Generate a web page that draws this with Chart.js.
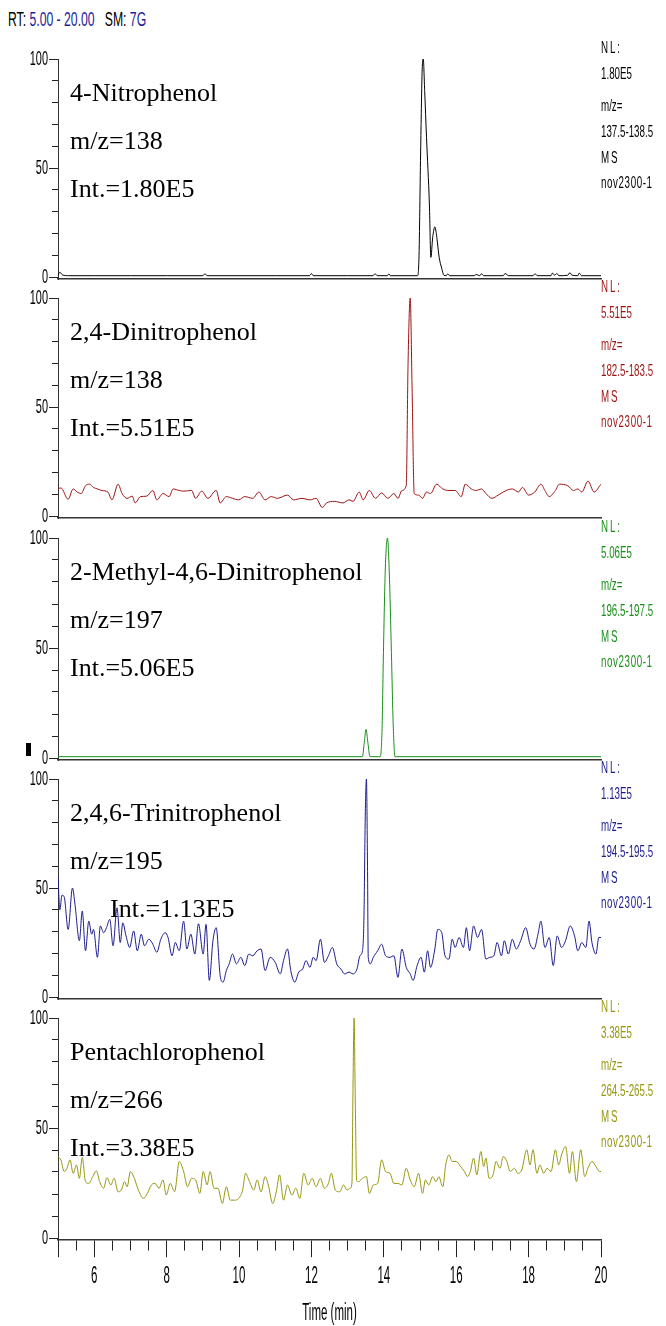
<!DOCTYPE html>
<html><head><meta charset="utf-8">
<script src="https://cdn.jsdelivr.net/npm/chart.js@4.4.1/dist/chart.umd.min.js"></script>
<style>
body{margin:0;width:666px;height:1326px;position:relative;background:#fff;overflow:hidden}
canvas{position:absolute;left:0}
.t{position:absolute;white-space:nowrap;line-height:1}
.cmp{font-family:'Liberation Serif','Times New Roman',serif;font-size:26px;color:#000}
.nl{font-family:'Liberation Sans',Arial,sans-serif;font-size:16px;transform:scaleX(0.61);transform-origin:0 0}
.hd{font-family:'Liberation Sans',Arial,sans-serif;font-size:20px;left:8px;top:9px;transform:scaleX(0.61);transform-origin:0 0}
</style></head><body>
<div class="t hd">RT: <span style="color:#1f1f9c">5.00 - 20.00</span>&nbsp;&nbsp; SM: <span style="color:#1f1f9c">7G</span></div>
<div style="position:absolute;left:26px;top:743px;width:5px;height:13px;background:#000"></div>
<canvas id="c1"></canvas><canvas id="c2"></canvas><canvas id="c3"></canvas><canvas id="c4"></canvas><canvas id="c5"></canvas>
<div id="labels"></div>
<script>
// ---------------- data ----------------
const xTickValues = [5,5.5,6,6.5,7,7.5,8,8.5,9,9.5,10,10.5,11,11.5,12,12.5,13,13.5,14,14.5,15,15.5,16,16.5,17,17.5,18,18.5,19,19.5,20];
const xTickLabels = [6,8,10,12,14,16,18,20];
const xLongTicks = [5,6,8,10,12,14,16,18,20];
const yTickValues = [0,10,20,30,40,50,60,70,80,90,100];
const yTickLabels = [0,50,100];
const xTitle = 'Time (min)';

const compounds = ['4-Nitrophenol','2,4-Dinitrophenol','2-Methyl-4,6-Dinitrophenol','2,4,6-Trinitrophenol','Pentachlorophenol'];
const mzLabels = ['m/z=138','m/z=138','m/z=197','m/z=195','m/z=266'];
const intLabels = ['Int.=1.80E5','Int.=5.51E5','Int.=5.06E5','Int.=1.13E5','Int.=3.38E5'];
const nlValues = ['1.80E5','5.51E5','5.06E5','1.13E5','3.38E5'];
const mzRanges = ['137.5-138.5','182.5-183.5','196.5-197.5','194.5-195.5','264.5-265.5'];
const colors = ['#000000','#9e1414','#1a8f1a','#1c1c8e','#979712'];

const p1T = [5.00,5.05,5.12,5.30,6.00,7.00,8.00,9.00,9.06,9.12,10.00,11.00,11.95,12.00,12.05,13.00,13.70,13.76,13.82,14.10,14.14,14.18,14.93,14.97,15.02,15.06,15.09,15.13,15.18,15.26,15.30,15.35,15.41,15.45,15.48,15.53,15.60,15.66,15.72,15.77,15.82,16.50,16.55,16.65,16.70,16.76,17.30,17.35,17.45,18.12,18.18,18.24,18.62,18.66,18.72,18.78,18.84,19.08,19.14,19.20,19.36,19.40,19.46,20.00];
const p1Y = [0.8,2.2,1.0,0.6,0.6,0.6,0.6,0.6,1.5,0.6,0.6,0.6,0.6,1.6,0.6,0.6,0.6,1.5,0.6,0.6,1.5,0.6,0.6,8,60,95,100,85,64,33,9,18,23,20,16,9,4,0.8,0.6,1.5,0.6,0.6,1.2,0.6,1.5,0.6,0.6,1.6,0.6,0.6,1.5,0.6,0.6,1.8,0.8,1.6,0.6,0.8,2.0,0.8,0.6,1.8,0.6,0.6];

const p2T = [5.00,5.08,5.28,5.42,5.53,5.64,5.76,5.87,5.98,6.09,6.21,6.38,6.49,6.66,6.77,6.91,7.05,7.13,7.28,7.45,7.62,7.73,7.90,8.07,8.18,8.35,8.47,8.69,8.80,8.97,9.14,9.37,9.48,9.65,9.82,9.99,10.16,10.38,10.55,10.72,10.89,11.06,11.34,11.51,11.74,11.96,12.13,12.30,12.42,12.64,12.87,13.04,13.15,13.32,13.43,13.60,13.77,13.94,14.11,14.28,14.39,14.50,14.62,14.67,14.73,14.78,14.84,14.96,15.07,15.18,15.29,15.46,15.63,15.80,15.97,16.14,16.25,16.42,16.54,16.70,16.82,16.99,17.16,17.38,17.55,17.72,17.83,18.00,18.17,18.34,18.45,18.57,18.74,18.85,19.08,19.24,19.36,19.47,19.64,19.81,20.00];
const p2Y = [12.4,12.9,7.7,12.4,11.0,10.3,13.9,14.6,13.1,12.4,11.7,11.0,7.4,14.6,10.3,8.1,9.1,6.0,8.9,9.1,11.7,7.4,10.3,8.9,12.4,11.7,11.4,11.7,8.1,11.4,8.1,11.7,6.0,8.9,8.1,7.4,8.9,8.1,11.0,7.4,8.9,8.1,9.6,7.4,8.1,7.4,8.1,3.9,6.0,6.7,6.0,7.4,6.7,11.0,7.4,11.7,8.1,10.6,8.1,10.3,8.1,11.7,14.0,70,100,60,10.3,9.6,8.1,11.0,10.3,14.6,12.4,11.7,11.7,8.9,14.6,12.4,11.7,12.4,10.3,8.1,9.6,11.7,12.4,11.0,13.1,9.6,11.0,14.6,11.7,8.9,11.7,14.6,13.9,11.7,12.4,11.0,16.0,11.0,14.6];

const p3T = [5.00,13.41,13.46,13.51,13.56,13.62,13.90,13.95,13.99,14.04,14.10,14.15,14.21,14.26,14.31,20.00];
const p3Y = [0.6,0.6,7,13,7,0.6,0.6,12,48,85,100,85,48,15,0.6,0.6];

const p4T = [5.00,5.05,5.11,5.17,5.28,5.40,5.47,5.59,5.67,5.76,5.85,5.93,5.98,6.09,6.17,6.26,6.34,6.43,6.52,6.63,6.72,6.79,6.88,6.98,7.09,7.19,7.30,7.39,7.51,7.62,7.73,7.84,7.96,8.04,8.15,8.24,8.35,8.47,8.56,8.67,8.78,8.88,9.01,9.09,9.18,9.28,9.37,9.48,9.56,9.65,9.73,9.82,9.93,10.05,10.16,10.27,10.38,10.50,10.61,10.72,10.86,11.00,11.14,11.23,11.34,11.43,11.54,11.65,11.76,11.85,11.96,12.05,12.13,12.25,12.36,12.47,12.58,12.70,12.81,12.92,13.04,13.15,13.26,13.34,13.41,13.45,13.49,13.52,13.55,13.57,13.63,13.71,13.83,13.94,14.05,14.17,14.28,14.39,14.50,14.62,14.73,14.81,14.92,15.03,15.12,15.21,15.29,15.41,15.49,15.60,15.69,15.80,15.89,15.97,16.08,16.20,16.28,16.37,16.48,16.59,16.70,16.82,16.93,17.04,17.13,17.25,17.33,17.44,17.55,17.66,17.78,17.92,18.04,18.15,18.26,18.34,18.45,18.57,18.68,18.79,18.91,19.02,19.15,19.27,19.36,19.47,19.58,19.67,19.75,19.86,19.94,20.00];
const p4Y = [55.3,40,46.7,46,31,50,42.4,25.8,39.4,21.2,34.8,28.8,31,18.2,32.6,29.5,31.8,35.6,23.5,40.9,25,34,28,22.7,30.3,21.2,28.8,23.5,26.5,24.2,20.5,26.5,29.5,27.3,18.9,25,21.2,34.8,22,28.8,19.7,33.6,19.7,33.3,7.6,25.8,31.8,9.8,6.8,12.1,15.2,19.7,15.2,18.2,14.4,19.7,18.9,21.2,22,12.1,18.2,15.9,10.6,16.7,22,12.1,6.8,11.4,12.9,16.7,13.6,18.2,16.7,26.5,15.9,18.9,22.7,15.2,12.9,10.6,11.4,10.6,12.9,18.9,21.2,35,85,100,60,18.2,15.2,18.2,21.2,24.2,18.9,18.2,18.9,9,22,13.6,10.6,7.6,14.4,18.2,11.4,21.2,13.6,22,31,29.5,18.9,17.4,26.5,22.7,27.3,22.7,31.8,21.2,32.6,27.3,31,17.4,18.2,18.9,25,18.9,25.8,19.7,26.5,22,25.8,31.8,24.2,22,28.8,34.8,22.7,27.3,14.4,28,22.7,25.8,32.6,28,21.2,25,22.7,34.8,25,19.7,27.3,27.3];

const p5T = [5.00,5.08,5.17,5.25,5.33,5.42,5.51,5.59,5.67,5.76,5.85,5.96,6.06,6.15,6.26,6.35,6.46,6.55,6.66,6.75,6.84,6.91,7.00,7.11,7.22,7.36,7.47,7.58,7.68,7.79,7.90,7.99,8.10,8.22,8.35,8.47,8.58,8.69,8.80,8.92,9.01,9.12,9.20,9.31,9.42,9.54,9.65,9.76,9.88,9.99,10.10,10.18,10.29,10.41,10.50,10.61,10.72,10.81,10.93,11.03,11.12,11.23,11.34,11.46,11.57,11.68,11.79,11.91,12.02,12.13,12.25,12.36,12.47,12.55,12.66,12.78,12.89,12.98,13.07,13.12,13.15,13.18,13.21,13.25,13.30,13.41,13.52,13.60,13.71,13.83,13.94,14.05,14.17,14.28,14.39,14.50,14.62,14.73,14.84,14.96,15.07,15.15,15.24,15.35,15.44,15.52,15.63,15.71,15.80,15.89,16.00,16.12,16.23,16.31,16.39,16.48,16.57,16.68,16.76,16.82,16.91,17.02,17.10,17.21,17.30,17.40,17.49,17.61,17.70,17.81,17.95,18.04,18.12,18.23,18.31,18.42,18.51,18.62,18.74,18.83,18.91,19.02,19.13,19.21,19.32,19.44,19.55,19.64,19.75,19.86,19.96,20.00];
const p5Y = [37,35.5,30.2,31.7,35.5,29.4,33.2,27.1,36.6,25.6,24.8,27.9,30.5,25.6,22.6,27.4,24.1,27.1,21,21.8,25.6,23.3,30.2,27.1,21.8,18,20.3,24.1,24.8,22.6,26.4,19.5,24.8,21,34.8,30.2,23.3,27.1,26.4,20.3,30.2,24.1,30.2,22.6,22.6,15.7,23.3,17.2,17.2,18,21.8,29.4,25.6,21.8,26.4,21,27.9,24.1,15.7,21,28.7,17.2,24.1,19.5,22.6,18,29.4,24.1,27.1,23.3,27.1,22.6,24.8,29.4,21.8,21,24.1,21.8,22.6,25,70,100,65,26,25.6,27.1,27.9,20.3,24.1,24.8,35.5,30.2,29.4,24.8,24.8,24.1,31.7,26.4,23.3,29.4,20.3,26.4,24.1,27.9,25.6,27.9,23.3,33.2,37.8,34.8,34.8,32.5,30.2,27.9,30.2,36.3,28.7,39.3,32.5,36.3,27.1,28.7,34.8,31.7,37,34.8,30.2,31.7,29.4,30.9,40.1,33.2,40.1,29.4,33.2,29.4,31.7,30.2,40.1,33.2,37.8,41.6,29.4,39.3,25.6,40.1,27.9,31.7,34.8,32.5,30.2,30.2];

const seriesT = [p1T,p2T,p3T,p4T,p5T];
const seriesY = [p1Y,p2Y,p3Y,p4Y,p5Y];

// ---------------- layout ----------------
const panelTop = [59,298,538,779,1018];     // pixel of 100 %
const panelZero = [277,516,758,997,1238];   // pixel of 0 %
const YMIN = -1, YMAX = 100;
const PAD_TOP = 14;
const SANS = "'Liberation Sans', Arial, sans-serif";

// draws tick labels condensed (narrow font look), positioned by the chart's own scales
const narrowLabels = {
  id: 'narrowLabels',
  afterDraw(chart, args, opts) {
    const ctx = chart.ctx;
    const ys = chart.scales.y, xs = chart.scales.x;
    ctx.save();
    ctx.fillStyle = '#000';
    ctx.textBaseline = 'middle';
    ctx.font = '21px ' + SANS;
    ctx.textAlign = 'right';
    yTickLabels.forEach(v => {
      ctx.save();
      ctx.translate(ys.right - 10, ys.getPixelForValue(v));
      ctx.scale(0.52, 1);
      ctx.fillText(String(v), 0, 0);
      ctx.restore();
    });
    if (opts.bottom) {
      ctx.textAlign = 'center';
      ctx.font = '23px ' + SANS;
      xTickLabels.forEach(v => {
        ctx.save();
        ctx.translate(xs.getPixelForValue(v), xs.top + 36);
        ctx.scale(0.5, 1);
        ctx.fillText(String(v), 0, 0);
        ctx.restore();
      });
      ctx.save();
      ctx.translate((chart.chartArea.left + chart.chartArea.right) / 2, xs.top + 73);
      ctx.scale(0.5, 1);
      ctx.fillText(xTitle, 0, 0);
      ctx.restore();
    }
    ctx.restore();
  }
};

function makePanel(i){
  const bottom = i === 4;
  const c = document.getElementById('c'+(i+1));
  const areaH = (panelZero[i]-panelTop[i])*(YMAX-YMIN)/YMAX;
  const xH = bottom ? 80 : 2;
  const H = Math.ceil(PAD_TOP + areaH + xH + 4);
  const padB = H - PAD_TOP - areaH - xH;
  c.width = 666; c.height = H;
  c.style.top = (panelTop[i]-PAD_TOP)+'px';
  c.style.width = '666px'; c.style.height = H+'px';
  new Chart(c, {
    type: 'line',
    data: { datasets: [{
      data: seriesT[i].map((t,k)=>({x:t, y:seriesY[i][k]})),
      borderColor: colors[i], borderWidth: 1, pointRadius: 0,
      cubicInterpolationMode: 'monotone', fill: false
    }]},
    plugins: [narrowLabels],
    options: {
      responsive: false, animation: false, events: [],
      layout: { padding: { top: PAD_TOP, right: 65, bottom: padB, left: 0 } },
      plugins: { legend: { display: false }, tooltip: { enabled: false }, narrowLabels: { bottom } },
      scales: {
        x: {
          type: 'linear', min: 5, max: 20,
          afterBuildTicks: ax => { ax.ticks = xTickValues.map(v => ({value: v})); },
          afterFit: s => { s.height = xH; },
          ticks: { display: false },
          grid: { drawOnChartArea: false, drawTicks: bottom, tickLength: 17, tickColor: '#222', tickWidth: 1,
            tickBorderDash: ctx => (ctx.tick && xLongTicks.includes(ctx.tick.value)) ? [] : [10, 40] },
          border: { display: true, color: '#333', width: 1.5 }
        },
        y: {
          min: YMIN, max: YMAX,
          afterBuildTicks: ax => { ax.ticks = yTickValues.map(v => ({value: v})); },
          afterFit: s => { s.width = 58; },
          ticks: { display: false },
          grid: { drawOnChartArea: false, tickLength: 9, tickColor: '#222', tickWidth: 1,
            tickBorderDash: ctx => (ctx.tick && yTickLabels.includes(ctx.tick.value)) ? [] : [0, 3, 20, 40] },
          border: { display: true, color: '#333', width: 1 }
        }
      }
    }
  });
}
for (let i = 0; i < 5; i++) makePanel(i);

// ---------------- text annotations ----------------
const lbl = document.getElementById('labels');
function addText(cls, txt, top, left, color, extra){
  const d = document.createElement('div');
  d.className = 't ' + cls; d.textContent = txt;
  d.style.top = top + 'px'; d.style.left = left + 'px';
  if (color) d.style.color = color;
  if (extra) Object.assign(d.style, extra);
  lbl.appendChild(d);
}
const cmpBaselines = [43, 91, 139];
const nlCenters = [-11, 15, 47, 73, 99, 124];
for (let i = 0; i < 5; i++){
  const y0 = panelTop[i];
  addText('cmp', compounds[i], y0 + cmpBaselines[0] - 22, 70);
  addText('cmp', mzLabels[i], y0 + cmpBaselines[1] - 22, 70);
  addText('cmp', intLabels[i], y0 + cmpBaselines[2] - 22, i === 3 ? 110 : 70);
  const rt = ['NL:', nlValues[i], 'm/z=', mzRanges[i], 'MS', 'nov2300-1'];
  rt.forEach((s, k) => addText('nl', s, y0 + nlCenters[k] - 8, 601, colors[i],
    (k === 0 || k === 4) ? {letterSpacing: '3px'} : (k === 5 ? {letterSpacing: '1px'} : null)));
}
</script>
</body></html>
